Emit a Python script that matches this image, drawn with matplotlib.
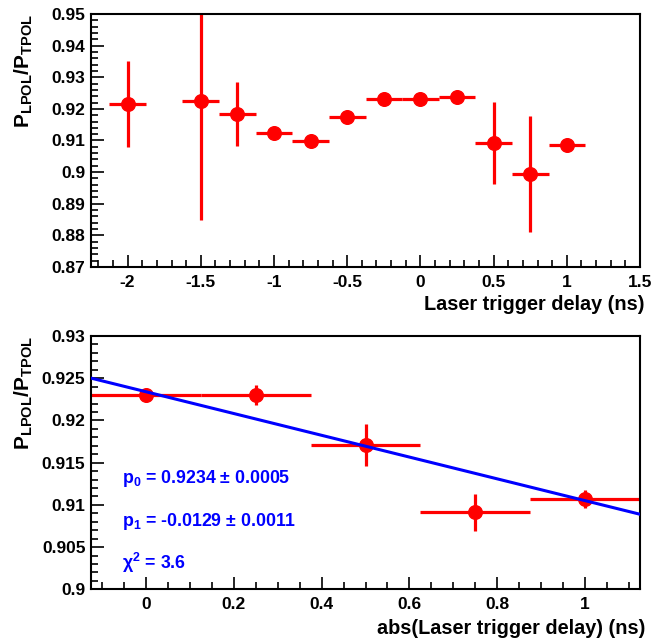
import matplotlib
matplotlib.use("Agg")
import matplotlib.pyplot as plt
import numpy as np
from matplotlib.ticker import MultipleLocator

plt.rcParams['font.family'] = ['Liberation Sans', 'DejaVu Sans']
plt.rcParams['font.weight'] = 'bold'
plt.rcParams['mathtext.fontset'] = 'custom'
plt.rcParams['mathtext.rm'] = 'Liberation Sans:bold'
plt.rcParams['mathtext.bf'] = 'Liberation Sans:bold'
plt.rcParams['mathtext.it'] = 'Liberation Sans:bold:italic'
plt.rcParams['mathtext.default'] = 'rm'

# Top panel data
delay = [-2.0, -1.5, -1.25, -1.0, -0.75, -0.5, -0.25, 0.0, 0.25, 0.5, 0.75, 1.0]
ratio = [0.9215, 0.9224, 0.9184, 0.9125, 0.9097, 0.9175, 0.9230, 0.9230, 0.9238, 0.9093, 0.8994, 0.9085]
ratio_err = [0.0137, 0.0376, 0.0102, 0.0004, 0.0004, 0.0004, 0.0004, 0.0004, 0.0004, 0.0129, 0.0183, 0.0004]
delay_err = [0.125] * 12

# Bottom panel data
abs_delay = [0.0, 0.25, 0.5, 0.75, 1.0]
abs_ratio = [0.9230, 0.9230, 0.9171, 0.9091, 0.9107]
abs_ratio_err = [0.0004, 0.0012, 0.0025, 0.0022, 0.0011]
abs_delay_err = [0.125] * 5

p0, p0_err = 0.9234, 0.0005
p1, p1_err = -0.0129, 0.0011
chi2 = 3.6

fig = plt.figure(figsize=(6.52, 6.42), dpi=100)
W, H = 652, 642
ax1 = fig.add_axes([91 / W, 1 - 267 / H, 549 / W, 253 / H])
ax2 = fig.add_axes([91 / W, 1 - 589.3 / H, 549 / W, 253.3 / H])

red = '#ff0000'
blue = '#0000ff'

def style(ax):
    for s in ax.spines.values():
        s.set_linewidth(1.5)
    ax.tick_params(which='both', direction='in', top=False, right=False,
                   labelsize=12.5, width=1.2)
    ax.tick_params(which='major', length=9)
    ax.tick_params(which='minor', length=5)
    ax.tick_params(axis='x', which='both', pad=5.5)
    ax.tick_params(axis='y', which='both', pad=4)
    for lab in ax.get_xticklabels() + ax.get_yticklabels():
        lab.set_fontweight('bold')

ylabel = r'$P_{LPOL}/P_{TPOL}$'

# Top panel
ax1.errorbar(delay, ratio, yerr=ratio_err, xerr=delay_err, fmt='o', color=red,
             ms=9.8, elinewidth=2.3, capsize=0)
ax1.set_xlim(-2.25, 1.5)
ax1.set_ylim(0.87, 0.95)
ax1.set_xticks([-2, -1.5, -1, -0.5, 0, 0.5, 1, 1.5])
ax1.set_xticklabels(['-2', '-1.5', '-1', '-0.5', '0', '0.5', '1', '1.5'])
ax1.xaxis.set_minor_locator(MultipleLocator(0.1))
ax1.set_yticks([0.87, 0.88, 0.89, 0.9, 0.91, 0.92, 0.93, 0.94, 0.95])
ax1.set_yticklabels(['0.87', '0.88', '0.89', '0.9', '0.91', '0.92', '0.93', '0.94', '0.95'])
ax1.yaxis.set_minor_locator(MultipleLocator(0.002))
style(ax1)
ax1.text(-0.122, 1.0, ylabel, transform=ax1.transAxes, rotation=90,
         ha='center', va='top', fontsize=15)
ax1.text(1.009, -0.15, 'Laser trigger delay (ns)', transform=ax1.transAxes,
         ha='right', va='center', fontsize=14.3, fontweight='bold')

# Bottom panel
ax2.errorbar(abs_delay, abs_ratio, yerr=abs_ratio_err, xerr=abs_delay_err, fmt='o',
             color=red, ms=9.8, elinewidth=2.3, capsize=0, zorder=2)
xf = np.array([-0.125, 1.125])
ax2.plot(xf, p0 + p1 * xf, color=blue, lw=2.2, zorder=3)
ax2.set_xlim(-0.125, 1.125)
ax2.set_ylim(0.9, 0.93)
ax2.set_xticks([0, 0.2, 0.4, 0.6, 0.8, 1])
ax2.set_xticklabels(['0', '0.2', '0.4', '0.6', '0.8', '1'])
ax2.xaxis.set_minor_locator(MultipleLocator(0.05))
ax2.set_yticks([0.9, 0.905, 0.91, 0.915, 0.92, 0.925, 0.93])
ax2.set_yticklabels(['0.9', '0.905', '0.91', '0.915', '0.92', '0.925', '0.93'])
ax2.yaxis.set_minor_locator(MultipleLocator(0.001))
style(ax2)
ax2.text(-0.122, 1.0, ylabel, transform=ax2.transAxes, rotation=90,
         ha='center', va='top', fontsize=15)
ax2.text(1.009, -0.153, 'abs(Laser trigger delay) (ns)', transform=ax2.transAxes,
         ha='right', va='center', fontsize=14.3, fontweight='bold')

ax2.text(-0.055, 0.9131, r'$p_{0}$' + f' = {p0:.4f} \u00b1 {p0_err:.4f}', color=blue,
         fontsize=12.8, fontweight='bold', va='center', ha='left')
ax2.text(-0.055, 0.9080, r'$p_{1}$' + f' = {p1:.4f} \u00b1 {p1_err:.4f}', color=blue,
         fontsize=12.8, fontweight='bold', va='center', ha='left')
ax2.text(-0.055, 0.9031, '\u03c7' + r'$^{2}$' + f' = {chi2}', color=blue,
         fontsize=12.8, fontweight='bold', va='center', ha='left')

fig.savefig('out.png', dpi=100)
